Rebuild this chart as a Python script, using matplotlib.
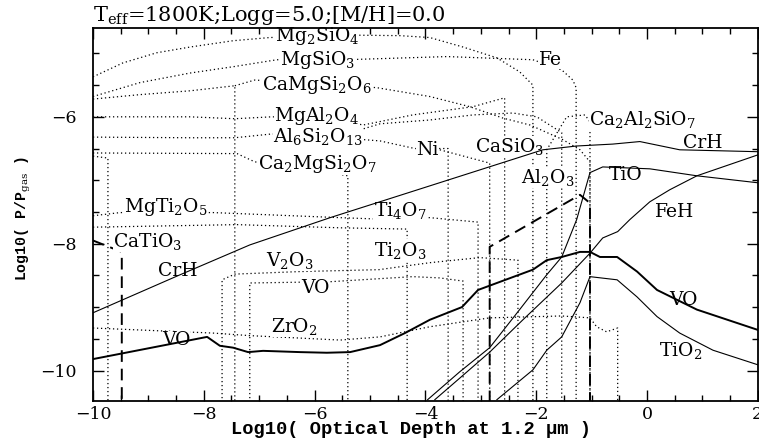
import matplotlib
matplotlib.use("Agg")
import matplotlib.pyplot as plt
from matplotlib.ticker import MultipleLocator

plt.rcParams["mathtext.fontset"] = "dejavuserif"
plt.rcParams["font.family"] = "DejaVu Serif"

# ---- gas-phase species (solid lines) ----
crh_x = [-10, -8.48, -7.17, -5.72, -1.88, -1.27, -0.62, -0.13, 0.59, 2.0]
crh_y = [-9.09, -8.51, -8.02, -7.59, -6.52, -6.46, -6.43, -6.39, -6.52, -6.55]

tio_x = [-3.96, -3.38, -2.84, -2.30, -1.81, -1.54, -1.27, -1.03, -0.80, 0.05, 0.90, 2.0]
tio_y = [-10.46, -10.02, -9.64, -9.04, -8.49, -8.21, -7.62, -6.88, -6.79, -6.82, -6.93, -7.04]

feh_x = [-3.83, -3.38, -2.84, -2.24, -1.54, -1.03, -0.80, -0.53, -0.31, 0.05, 0.41, 0.90, 2.0]
feh_y = [-10.46, -10.12, -9.71, -9.20, -8.62, -8.15, -7.91, -7.81, -7.62, -7.34, -7.15, -6.93, -6.60]

tio2_x = [-2.71, -2.06, -1.81, -1.54, -1.21, -1.03, -0.54, -0.18, 0.18, 0.59, 1.19, 2.0]
tio2_y = [-10.46, -9.99, -9.68, -9.47, -8.93, -8.52, -8.57, -8.84, -9.15, -9.41, -9.68, -9.91]

vo_x = [-10, -7.94, -7.71, -7.47, -7.20, -6.93, -6.26, -5.78, -5.36, -4.82, -4.37, -3.92, -3.34,
        -3.05, -2.71, -2.06, -1.81, -1.54, -1.21, -1.03, -0.85, -0.54, -0.18, 0.18, 0.90, 2.0]
vo_y = [-9.82, -9.47, -9.61, -9.64, -9.71, -9.69, -9.71, -9.72, -9.71, -9.60, -9.41, -9.20, -9.00,
        -8.73, -8.62, -8.41, -8.26, -8.21, -8.13, -8.13, -8.21, -8.21, -8.44, -8.73, -9.04, -9.36]

# ---- condensates (dashed) ----
catio3_x = [-10, -9.48, -9.48]
catio3_y = [-7.95, -8.13, -10.5]
al2o3_x = [-2.84, -2.84, -1.21, -1.03, -1.03]
al2o3_y = [-10.5, -8.05, -7.23, -7.36, -10.5]

# ---- condensates (dotted) ----
mg2sio4_x = [-10, -9.46, -8.85, -8.25, -7.47, -6.81, -5.54, -4.46, -3.92, -3.32, -2.71, -2.30, -2.06, -2.06]
mg2sio4_y = [-5.37, -5.15, -4.99, -4.90, -4.80, -4.75, -4.71, -4.72, -4.75, -4.90, -5.07, -5.29, -5.50, -10.5]
mgsio3_x = [-10, -9.15, -8.25, -7.47, -6.68, -5.45, -3.61, -2.06, -1.54, -1.34, -1.28, -1.28]
mgsio3_y = [-5.68, -5.46, -5.31, -5.21, -5.10, -5.10, -5.05, -5.10, -5.26, -5.42, -5.54, -10.5]
diops_a_x = [-10, -9.15, -8.25, -7.44, -7.44]
diops_a_y = [-5.72, -5.65, -5.59, -5.51, -10.5]
diops_b_x = [-7.44, -7.08, -4.88, -3.92, -3.20, -2.60, -2.11, -1.52, -1.21, -1.03, -1.03]
diops_b_y = [-5.51, -5.42, -5.54, -5.68, -5.84, -6.02, -6.13, -6.36, -6.52, -6.71, -10.5]
mgal2o4_x = [-10, -8.25, -7.44, -6.77, -5.60, -5.13, -4.23, -3.14, -2.57, -2.57]
mgal2o4_y = [-6.0, -6.0, -6.03, -6.0, -6.02, -6.13, -5.97, -5.84, -5.70, -10.5]
al6si2o13_x = [-10, -8.25, -7.44, -6.77, -5.54, -4.82, -3.92, -3.14, -2.42, -1.99, -1.54, -1.54]
al6si2o13_y = [-6.32, -6.33, -6.33, -6.27, -6.30, -6.11, -6.05, -5.97, -5.94, -6.0, -6.25, -10.5]
ni_x = [-5.54, -4.82, -4.19, -3.59, -3.59]
ni_y = [-6.33, -6.38, -6.50, -6.50, -10.5]
casio3_x = [-3.74, -2.84, -2.84]
casio3_y = [-6.52, -6.73, -10.5]
ca2mgsi2o7_x = [-10, -7.40, -7.08, -6.26, -5.40, -5.40]
ca2mgsi2o7_y = [-6.57, -6.58, -6.71, -6.80, -6.93, -10.5]
short_x = [-10, -9.73, -9.73]
short_y = [-6.62, -6.65, -10.5]
mgti2o5_x = [-10, -9.51, -7.83, -5.54, -4.91, -3.92, -3.05, -3.05]
mgti2o5_y = [-7.56, -7.51, -7.51, -7.59, -7.61, -7.59, -7.66, -10.5]
ti4o7_x = [-10, -7.40, -5.54, -4.33, -4.33]
ti4o7_y = [-7.74, -7.70, -7.75, -7.77, -10.5]
v2o3_x = [-7.67, -7.67, -7.44, -6.26, -4.84, -3.92, -3.02, -2.33, -2.33]
v2o3_y = [-10.5, -8.57, -8.48, -8.44, -8.41, -8.30, -8.22, -8.26, -10.5]
vos_x = [-7.17, -7.17, -5.72, -4.23, -3.74, -3.32, -3.32]
vos_y = [-10.5, -8.62, -8.60, -8.52, -8.54, -8.59, -10.5]
zro2_x = [-10, -7.83, -7.17, -5.54, -4.82, -3.92, -2.84, -1.54, -1.03, -0.91, -0.73, -0.53, -0.53]
zro2_y = [-9.33, -9.41, -9.45, -9.52, -9.47, -9.31, -9.17, -9.14, -9.17, -9.31, -9.39, -9.33, -10.5]
ca2al2sio7_x = [-1.81, -1.81, -1.45, -1.12, -1.03, -1.03]
ca2al2sio7_y = [-10.5, -6.52, -6.0, -5.97, -6.08, -10.5]

dotted = [(mg2sio4_x, mg2sio4_y), (mgsio3_x, mgsio3_y), (diops_a_x, diops_a_y),
          (diops_b_x, diops_b_y), (mgal2o4_x, mgal2o4_y), (al6si2o13_x, al6si2o13_y),
          (ni_x, ni_y), (casio3_x, casio3_y), (ca2mgsi2o7_x, ca2mgsi2o7_y),
          (short_x, short_y), (mgti2o5_x, mgti2o5_y), (ti4o7_x, ti4o7_y),
          (v2o3_x, v2o3_y), (vos_x, vos_y), (zro2_x, zro2_y), (ca2al2sio7_x, ca2al2sio7_y)]

# labels: text, x, y
labels = [
    ("Mg$_2$SiO$_4$", -5.96, -4.72), ("MgSiO$_3$", -5.94, -5.10),
    ("CaMgSi$_2$O$_6$", -5.96, -5.50), ("MgAl$_2$O$_4$", -5.96, -5.99),
    ("Al$_6$Si$_2$O$_{13}$", -5.94, -6.31), ("Ca$_2$MgSi$_2$O$_7$", -5.96, -6.74),
    ("Ni", -3.96, -6.52), ("CaSiO$_3$", -2.48, -6.47), ("Fe", -1.75, -5.10),
    ("Ca$_2$Al$_2$SiO$_7$", -0.08, -6.05), ("CrH", 1.01, -6.41),
    ("Al$_2$O$_3$", -1.79, -6.96), ("TiO", -0.38, -6.91), ("FeH", 0.50, -7.50),
    ("MgTi$_2$O$_5$", -8.68, -7.42), ("CaTiO$_3$", -9.01, -7.97), ("CrH", -8.47, -8.43),
    ("Ti$_4$O$_7$", -4.46, -7.47), ("V$_2$O$_3$", -6.44, -8.26), ("Ti$_2$O$_3$", -4.46, -8.10),
    ("VO", -5.98, -8.70), ("VO", -8.50, -9.52), ("ZrO$_2$", -6.36, -9.31),
    ("VO", 0.66, -8.89), ("TiO$_2$", 0.61, -9.68),
]

fig = plt.figure(figsize=(7.59, 4.45), dpi=100)
ax = fig.add_axes([0.1225, 0.099, 0.876, 0.838])

for xs, ys in dotted:
    ax.plot(xs, ys, color="k", lw=0.9, linestyle=(0, (1, 2.2)), zorder=1)
for xs, ys in [(catio3_x, catio3_y), (al2o3_x, al2o3_y)]:
    ax.plot(xs, ys, color="k", lw=1.4, linestyle=(0, (6, 3.5)), zorder=1.5)

for xs, ys in [(crh_x, crh_y), (tio_x, tio_y), (feh_x, feh_y), (tio2_x, tio2_y)]:
    ax.plot(xs, ys, color="k", lw=0.8, zorder=3)
ax.plot(vo_x, vo_y, color="k", lw=1.4, zorder=3)

for txt, x, y in labels:
    ax.text(x, y, txt, fontsize=13.5, ha="center", va="center", zorder=2,
            bbox=dict(facecolor="white", edgecolor="none", pad=0.2))

ax.set_xlim(-10, 2)
ax.set_ylim(-10.48, -4.6)
ax.xaxis.set_major_locator(MultipleLocator(2))
ax.xaxis.set_minor_locator(MultipleLocator(0.5))
ax.yaxis.set_major_locator(MultipleLocator(2))
ax.yaxis.set_minor_locator(MultipleLocator(0.5))
ax.tick_params(which="both", direction="in", top=True, right=True, width=1)
ax.tick_params(which="major", length=8, labelsize=12.5)
ax.tick_params(axis="y", which="major", pad=12)
ax.tick_params(which="minor", length=4)
for s in ax.spines.values():
    s.set_linewidth(1.3)

ax.set_xlabel("Log10( Optical Depth at 1.2 μm )", family="Liberation Mono",
              fontweight="bold", fontsize=13.5)
ax.xaxis.set_label_coords(0.478, -0.055)
ax.set_ylabel("Log10( P/P$_{\\rm gas}$ )", family="Liberation Mono",
              fontweight="bold", fontsize=10.7)
ax.yaxis.set_label_coords(-0.09, 0.49)

ax.text(0.0, 1.004, "T$_{\\rm eff}$=1800K;Logg=5.0;[M/H]=0.0", transform=ax.transAxes,
        fontsize=15, ha="left", va="bottom")

fig.savefig("out.png", dpi=100)
